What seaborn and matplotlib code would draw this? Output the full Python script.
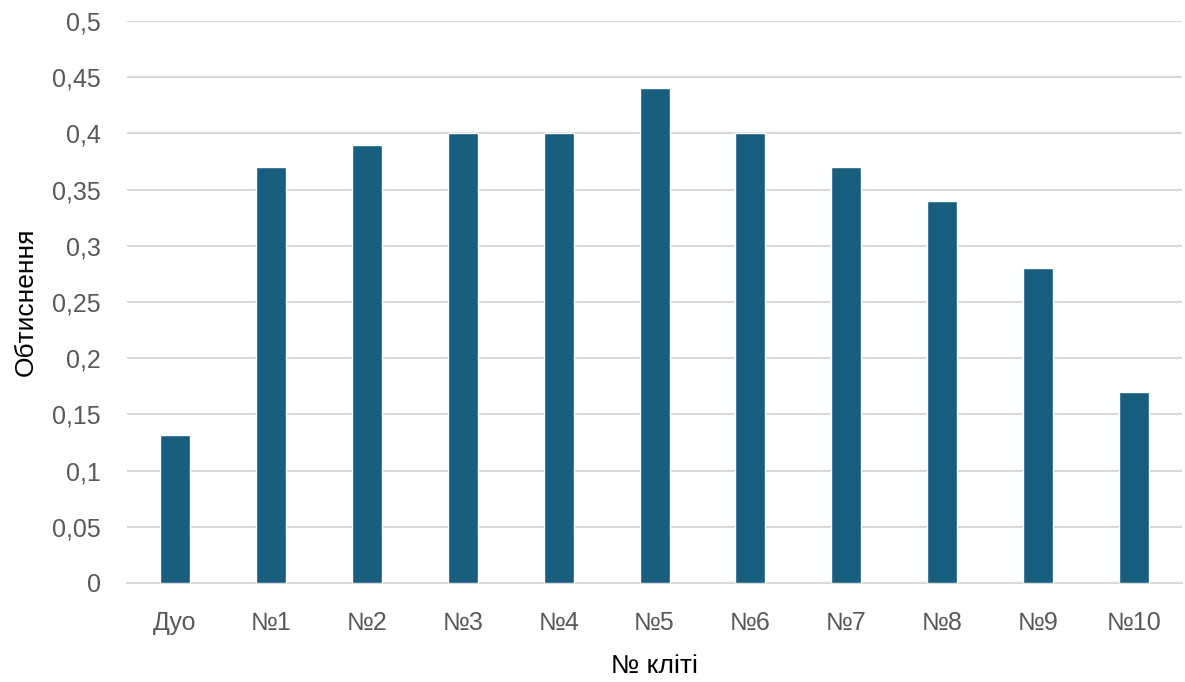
import matplotlib
matplotlib.use("Agg")
import matplotlib.pyplot as plt
import seaborn as sns
import pandas as pd
from matplotlib.ticker import FuncFormatter, MultipleLocator

categories = ["Дуо", "№1", "№2", "№3", "№4", "№5", "№6", "№7", "№8", "№9", "№10"]
values = [0.132, 0.37, 0.39, 0.40, 0.40, 0.44, 0.40, 0.37, 0.34, 0.28, 0.17]
x_label = "№ кліті"
y_label = "Обтиснення"

sns.set_theme(style="white")
plt.rcParams["font.family"] = ["Liberation Sans", "DejaVu Sans"]

df = pd.DataFrame({"cat": categories, "val": values})

fig = plt.figure(figsize=(11.85, 6.82), dpi=100)
ax = fig.add_axes([0.1072, 0.1452, 0.8903, 0.824])

sns.barplot(data=df, x="cat", y="val", color="#175E7F", width=0.313,
            saturation=1, ax=ax, zorder=3)

ax.set_ylim(0, 0.5)
ax.set_xlim(-0.5, len(categories) - 0.5)
ax.yaxis.set_major_locator(MultipleLocator(0.05))
ax.yaxis.set_major_formatter(FuncFormatter(lambda v, p: ("%g" % round(v, 2)).replace(".", ",")))
ax.grid(axis="y", color="#D9D9D9", linewidth=1.5, zorder=0)
ax.grid(axis="x", visible=False)
for s in ["top", "right", "left"]:
    ax.spines[s].set_visible(False)
ax.spines["bottom"].set_color("#D9D9D9")
ax.spines["bottom"].set_linewidth(1.5)
ax.tick_params(axis="y", length=0, pad=19, labelsize=18, labelcolor="#595959")
ax.tick_params(axis="x", length=0, pad=20, labelsize=18, labelcolor="#595959")
ax.set_xlabel(x_label, fontsize=19, color="black", labelpad=14)
ax.set_ylabel(y_label, fontsize=19, color="black", labelpad=10)

fig.savefig("out.png", dpi=100)
